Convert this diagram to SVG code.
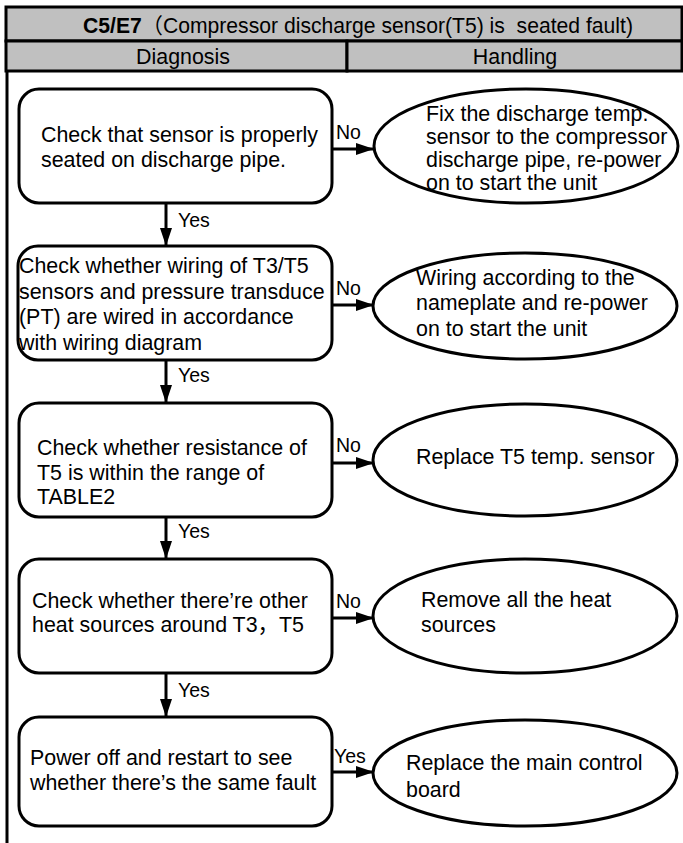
<svg xmlns="http://www.w3.org/2000/svg" width="683" height="843" viewBox="0 0 683 843">
<defs>
<style>
text{font-family:"Liberation Sans",Arial,"Noto Sans CJK SC",sans-serif;fill:#000}
.t{font-size:21.4px}
.lbl{font-size:19.5px}
.box{fill:#fff;stroke:#000;stroke-width:3}
.ell{fill:#fff;stroke:#000;stroke-width:3}
.hdr{fill:#c0c0c0;stroke:#000;stroke-width:3}
.ln{stroke:#000;stroke-width:3;fill:none}
</style>
<marker id="ah" viewBox="0 0 18 12" refX="18" refY="6" markerWidth="18" markerHeight="12" markerUnits="userSpaceOnUse" orient="auto">
<path d="M0,0 L18,6 L0,12 Z" fill="#000"/>
</marker>
</defs>
<rect width="683" height="843" fill="#fff"/>
<g id="header">
<rect class="hdr" x="6" y="7" width="676" height="34"/>
<rect class="hdr" x="6" y="41" width="341" height="30"/>
<rect class="hdr" x="347" y="41" width="335" height="30"/>
<text class="t" x="83" y="33" xml:space="preserve" textLength="550" lengthAdjust="spacingAndGlyphs"><tspan font-weight="bold">C5/E7</tspan>（Compressor discharge sensor(T5) is  seated fault)</text>
<text class="t" x="183" y="64" text-anchor="middle">Diagnosis</text>
<text class="t" x="515" y="64" text-anchor="middle">Handling</text>
</g>
<g id="frame"><line class="ln" x1="7" y1="71" x2="7" y2="843"/></g>
<g id="connectors">
<line class="ln" x1="166" y1="203" x2="166" y2="246" marker-end="url(#ah)"/>
<line class="ln" x1="166" y1="360" x2="166" y2="403" marker-end="url(#ah)"/>
<line class="ln" x1="166" y1="517" x2="166" y2="559" marker-end="url(#ah)"/>
<line class="ln" x1="166" y1="673" x2="166" y2="717" marker-end="url(#ah)"/>
<line class="ln" x1="332" y1="149" x2="374" y2="149" marker-end="url(#ah)"/>
<line class="ln" x1="332" y1="305" x2="374" y2="305" marker-end="url(#ah)"/>
<line class="ln" x1="332" y1="463" x2="374" y2="463" marker-end="url(#ah)"/>
<line class="ln" x1="332" y1="618" x2="374" y2="618" marker-end="url(#ah)"/>
<line class="ln" x1="332" y1="772" x2="374" y2="772" marker-end="url(#ah)"/>
<text class="lbl" x="178" y="227">Yes</text>
<text class="lbl" x="178" y="382">Yes</text>
<text class="lbl" x="178" y="538">Yes</text>
<text class="lbl" x="178" y="697">Yes</text>
<text class="lbl" x="336" y="139">No</text>
<text class="lbl" x="336" y="295">No</text>
<text class="lbl" x="336" y="452">No</text>
<text class="lbl" x="336" y="608">No</text>
<text class="lbl" x="334" y="763">Yes</text>
</g>
<g id="box1">
<rect class="box" x="19" y="89" width="313" height="114" rx="20"/>
<text class="t" x="41" y="142">Check that sensor is properly</text>
<text class="t" x="41" y="167">seated on discharge pipe.</text>
</g>
<g id="box2">
<rect class="box" x="18" y="246" width="314" height="114" rx="20"/>
<text class="t" x="19" y="273">Check whether wiring of T3/T5</text>
<text class="t" x="19" y="299">sensors and pressure transduce</text>
<text class="t" x="19" y="324">(PT) are wired in accordance</text>
<text class="t" x="19" y="350">with wiring diagram</text>
</g>
<g id="box3">
<rect class="box" x="19" y="403" width="313" height="114" rx="20"/>
<text class="t" x="37" y="455">Check whether resistance of</text>
<text class="t" x="37" y="480">T5 is within the range of</text>
<text class="t" x="37" y="504">TABLE2</text>
</g>
<g id="box4">
<rect class="box" x="19" y="559" width="313" height="114" rx="20"/>
<text class="t" x="32" y="608">Check whether there’re other</text>
<text class="t" x="32" y="632">heat sources around T3，T5</text>
</g>
<g id="box5">
<rect class="box" x="19" y="717" width="313" height="109" rx="20"/>
<text class="t" x="30" y="765">Power off and restart to see</text>
<text class="t" x="30" y="790">whether there’s the same fault</text>
</g>
<g id="ell1">
<ellipse class="ell" cx="526" cy="146" rx="152" ry="57"/>
<text class="t" x="426" y="121">Fix the discharge temp.</text>
<text class="t" x="426" y="144">sensor to the compressor</text>
<text class="t" x="426" y="167">discharge pipe, re-power</text>
<text class="t" x="426" y="190">on to start the unit</text>
</g>
<g id="ell2">
<ellipse class="ell" cx="525" cy="306" rx="152" ry="53"/>
<text class="t" x="416" y="285">Wiring according to the</text>
<text class="t" x="416" y="310">nameplate and re-power</text>
<text class="t" x="416" y="336">on to start the unit</text>
</g>
<g id="ell3">
<ellipse class="ell" cx="525" cy="460" rx="152" ry="56"/>
<text class="t" x="416" y="464">Replace T5 temp. sensor</text>
</g>
<g id="ell4">
<ellipse class="ell" cx="525" cy="616" rx="152" ry="57"/>
<text class="t" x="421" y="607">Remove all the heat</text>
<text class="t" x="421" y="632">sources</text>
</g>
<g id="ell5">
<ellipse class="ell" cx="525" cy="773" rx="152" ry="53"/>
<text class="t" x="406" y="770">Replace the main control</text>
<text class="t" x="406" y="797">board</text>
</g>
</svg>
